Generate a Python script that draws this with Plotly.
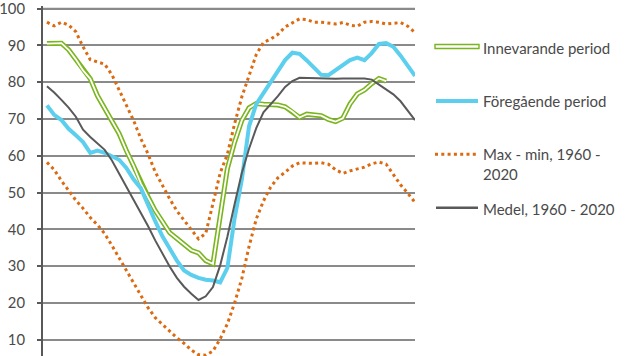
import plotly.graph_objects as go

weeks = list(range(1, 53))

innevarande = [90.5, 90.6, 90.6, 88.8, 86.2, 83.2, 80.9, 76.3, 72.8, 69.3, 66.0, 61.4,
               57.3, 52.5, 48.9, 45.1, 42.1, 39.1, 37.5, 35.9, 34.3, 33.6, 31.5, 30.6,
               43.7, 56.5, 63.7, 69.6, 73.0, 74.2, 74.0, 74.0, 73.8, 73.3, 72.0, 70.4,
               71.3, 71.1, 70.9, 69.9, 69.3, 70.2, 74.1, 76.8, 77.9, 79.6, 81.0, 80.3]

foregaende = [73.7, 71.1, 69.7, 67.3, 65.6, 63.7, 60.8, 61.4, 60.8, 59.9, 58.9, 56.7,
              53.6, 51.2, 46.5, 42.2, 38.1, 34.6, 31.5, 28.8, 27.6, 26.8, 26.3, 26.1,
              25.6, 29.5, 43.0, 53.5, 68.0, 74.0, 77.0, 79.6, 82.8, 86.0, 88.0, 87.7,
              85.9, 84.0, 82.0, 81.9, 83.2, 84.7, 86.0, 86.7, 86.0, 87.9, 90.4, 90.6,
              89.6, 87.2, 84.6, 81.7]

max_vals = [96.3, 95.3, 96.3, 95.5, 93.7, 89.6, 86.1, 85.6, 84.9, 82.0, 78.0, 73.9,
            69.6, 64.7, 60.5, 55.6, 51.8, 48.3, 45.0, 42.3, 39.9, 37.4, 38.9, 47.0,
            55.3, 60.4, 68.7, 76.0, 81.6, 87.5, 90.8, 91.7, 93.0, 95.0, 96.1, 97.2,
            97.0, 96.3, 96.3, 96.1, 95.8, 96.2, 95.5, 95.2, 96.3, 96.5, 96.3, 95.8,
            96.0, 96.2, 95.2, 93.5]

min_vals = [58.2, 56.2, 53.2, 50.4, 47.9, 45.7, 43.2, 41.2, 38.8, 35.6, 32.2, 28.6,
            25.6, 22.2, 18.7, 16.0, 14.1, 12.2, 10.5, 9.0, 7.2, 5.9, 5.8, 6.9,
            10.2, 14.3, 20.0, 26.6, 35.3, 42.8, 47.7, 51.5, 54.0, 55.5, 57.2, 58.1,
            57.9, 57.9, 58.1, 57.7, 56.2, 55.2, 55.9, 56.4, 56.9, 57.8, 58.3, 57.7,
            55.0, 52.1, 49.8, 47.3]

medel = [78.9, 77.2, 75.2, 73.1, 70.6, 67.1, 65.1, 63.3, 61.6, 58.7, 55.1, 51.5,
         48.1, 44.7, 40.9, 37.0, 33.3, 29.9, 26.8, 24.4, 22.5, 20.8, 21.8, 24.3,
         30.2, 38.0, 46.8, 55.3, 61.9, 67.5, 71.8, 73.9, 76.2, 78.7, 80.3, 81.2,
         81.1, 81.0, 80.9, 80.8, 80.9, 81.0, 81.0, 81.0, 81.0, 80.7, 79.4, 78.0,
         76.7, 74.8, 72.4, 69.7]

y_ticks = [10, 20, 30, 40, 50, 60, 70, 80, 90, 100]

legend_labels = ["Innevarande period", "Föregående period",
                 "Max - min, 1960 -<br>2020", "Medel, 1960 - 2020"]

GREEN = "#7ab51d"
CYAN = "#5ccfee"
ORANGE = "#dc6a10"
GRAY = "#595959"
GRID = "#8a8a8a"
TEXT = "#4a4a4a"
FONT = "Lato"

fig = go.Figure()

x_cur = weeks[:len(innevarande)]
fig.add_trace(go.Scatter(x=x_cur, y=innevarande, mode="lines",
                         line=dict(color=GREEN, width=5), showlegend=False, hoverinfo="skip"))
fig.add_trace(go.Scatter(x=x_cur, y=innevarande, mode="lines",
                         line=dict(color="white", width=1.8), showlegend=False,
                         name=legend_labels[0]))
fig.add_trace(go.Scatter(x=weeks, y=foregaende, mode="lines",
                         line=dict(color=CYAN, width=4), showlegend=False,
                         name=legend_labels[1]))
fig.add_trace(go.Scatter(x=weeks, y=max_vals, mode="lines",
                         line=dict(color=ORANGE, width=3, dash="3px,3.3px"), showlegend=False,
                         name="Max"))
fig.add_trace(go.Scatter(x=weeks, y=min_vals, mode="lines",
                         line=dict(color=ORANGE, width=3, dash="3px,3.3px"), showlegend=False,
                         name="Min"))
fig.add_trace(go.Scatter(x=weeks, y=medel, mode="lines",
                         line=dict(color=GRAY, width=2), showlegend=False,
                         name=legend_labels[3]))

W, H = 633, 356
Y_BOT, Y_TOP = 5.57, 100.7
scale = (356 - 8.3) / (100 - Y_BOT)
ML, MR, MB = 43, 218, 0
MT = 8.3 - (Y_TOP - 100) * scale
PW = W - ML - MR
PH = H - MT - MB


def px(xpix):
    return (xpix - ML) / PW


def py(ypix):
    return (H - MB - ypix) / PH


shapes = []
# top gridline (plotly drops the grid line next to the axis end)
shapes.append(dict(type="line", xref="x domain", yref="y", layer="below",
                   x0=0, x1=1, y0=y_ticks[-1], y1=y_ticks[-1],
                   line=dict(color=GRID, width=1.5)))
# legend symbols
shapes.append(dict(type="rect", xref="paper", yref="paper",
                   x0=px(435), x1=px(479), y0=py(48.2), y1=py(44.2),
                   line=dict(color=GREEN, width=1.4), fillcolor="white"))
shapes.append(dict(type="line", xref="paper", yref="paper",
                   x0=px(436), x1=px(478), y0=py(100.7), y1=py(100.7),
                   line=dict(color=CYAN, width=4)))
shapes.append(dict(type="line", xref="paper", yref="paper",
                   x0=px(435), x1=px(476), y0=py(154), y1=py(154),
                   line=dict(color=ORANGE, width=3, dash="3px,3.3px")))
shapes.append(dict(type="line", xref="paper", yref="paper",
                   x0=px(436), x1=px(478), y0=py(207.7), y1=py(207.7),
                   line=dict(color=GRAY, width=2.5)))

annotations = []
for lab, ypix in zip(legend_labels, [48, 100.7, 164, 209]):
    annotations.append(dict(text=lab, xref="paper", yref="paper",
                            x=px(482), y=py(ypix), xanchor="left", yanchor="middle",
                            align="left", showarrow=False, borderpad=0,
                            font=dict(family=FONT, size=15, color=TEXT)))

fig.update_layout(
    width=W, height=H,
    margin=dict(l=ML, r=MR, t=MT, b=MB, pad=0, autoexpand=False),
    paper_bgcolor="white", plot_bgcolor="white",
    showlegend=False,
    shapes=shapes, annotations=annotations,
    font=dict(family=FONT, size=15, color=TEXT),
)
fig.update_xaxes(range=[0.45, 52.0], visible=False, showgrid=False, zeroline=False,
                 automargin=False)
fig.update_yaxes(range=[Y_BOT, Y_TOP], tickmode="array", tickvals=y_ticks,
                 ticktext=[str(v) for v in y_ticks], ticklabeloverflow="allow",
                 showgrid=True, gridcolor=GRID, gridwidth=1.5, automargin=False,
                 zeroline=False, showline=True, linecolor=GRAY, linewidth=2,
                 ticks="outside", ticklen=4, tickwidth=2, tickcolor=GRAY,
                 ticklabelstandoff=9,
                 tickfont=dict(family=FONT, size=14.8, color=TEXT))

fig.write_html("out.html", config={"displayModeBar": False},
               post_script="document.body.style.margin='0';document.body.style.overflow='hidden';")
